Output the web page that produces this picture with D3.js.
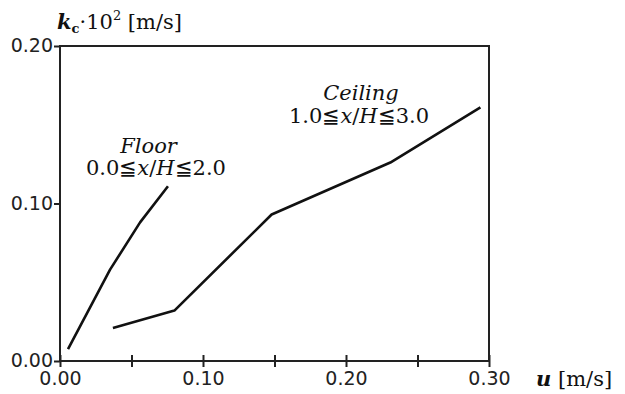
<!DOCTYPE html>
<html>
<head>
<meta charset="utf-8">
<script src="https://cdn.jsdelivr.net/npm/d3@7"></script>
<style>
body { margin: 0; background: #fff; }
.tick text { font-family: "DejaVu Sans", sans-serif; font-size: 19px; fill: #222; }
.lbl { font-family: "DejaVu Serif", serif; fill: #111; }
</style>
</head>
<body>
<script>

// floor curve (0.0 <= x/H <= 2.0)
const floorU = [0.0056, 0.035, 0.056, 0.0755];
const floorK = [0.0075, 0.058, 0.088, 0.111];

// ceiling curve (1.0 <= x/H <= 3.0)
const ceilU = [0.037, 0.080, 0.148, 0.231, 0.294];
const ceilK = [0.021, 0.032, 0.093, 0.126, 0.161];

const xTicks = [0, 0.05, 0.10, 0.15, 0.20, 0.25, 0.30];
const xTickLabels = ["0.00", "", "0.10", "", "0.20", "", "0.30"];
const yTicks = [0, 0.10, 0.20];
const yTickLabels = ["0.00", "0.10", "0.20"];

const W = 625, H = 394;
const margin = {top: 46, right: 136, bottom: 33, left: 60};
const width = W - margin.left - margin.right;
const height = H - margin.top - margin.bottom;

const svg = d3.select("body").append("svg")
    .attr("width", W)
    .attr("height", H);

const g = svg.append("g")
    .attr("transform", "translate(" + margin.left + "," + margin.top + ")");

const x = d3.scaleLinear().domain([0, 0.30]).range([0, width]);
const y = d3.scaleLinear().domain([0, 0.20]).range([height, 0]);

// frame
g.append("rect")
    .attr("width", width)
    .attr("height", height)
    .attr("fill", "none")
    .attr("stroke", "#222")
    .attr("stroke-width", 2);

// x axis, ticks cross the line
const xAx = g.append("g")
    .attr("transform", "translate(0," + height + ")")
    .call(d3.axisBottom(x).tickValues(xTicks).tickSize(0).tickPadding(11)
        .tickFormat((d, i) => xTickLabels[i]));
xAx.select(".domain").remove();
xAx.selectAll(".tick line")
    .attr("y1", -6).attr("y2", 6)
    .attr("stroke", "#222").attr("stroke-width", 2);

const yAx = g.append("g")
    .call(d3.axisLeft(y).tickValues(yTicks).tickSize(6).tickPadding(1)
        .tickFormat((d, i) => yTickLabels[i]));
yAx.select(".domain").remove();
yAx.selectAll(".tick line").attr("stroke", "#222").attr("stroke-width", 2);
yAx.selectAll(".tick text").attr("dy", "0.3em");

const line = d3.line()
    .x(d => x(d[0]))
    .y(d => y(d[1]));

g.append("path")
    .datum(floorU.map((u, i) => [u, floorK[i]]))
    .attr("d", line)
    .attr("fill", "none")
    .attr("stroke", "#111")
    .attr("stroke-width", 2.6)
    .attr("stroke-linejoin", "round");

g.append("path")
    .datum(ceilU.map((u, i) => [u, ceilK[i]]))
    .attr("d", line)
    .attr("fill", "none")
    .attr("stroke", "#111")
    .attr("stroke-width", 2.6)
    .attr("stroke-linejoin", "round");

// annotations
g.append("text").attr("class", "lbl")
    .attr("x", x(0.0619)).attr("y", y(0.1321))
    .attr("text-anchor", "middle")
    .style("font-size", "21px").style("font-style", "italic")
    .text("Floor");
g.append("text").attr("class", "lbl")
    .attr("x", x(0.0671)).attr("y", y(0.1181))
    .attr("text-anchor", "middle")
    .style("font-size", "21px")
    .html("0.0≦<tspan font-style='italic'>x</tspan>/<tspan font-style='italic'>H</tspan>≦2.0");

g.append("text").attr("class", "lbl")
    .attr("x", x(0.2105)).attr("y", y(0.1657))
    .attr("text-anchor", "middle")
    .style("font-size", "21px").style("font-style", "italic")
    .text("Ceiling");
g.append("text").attr("class", "lbl")
    .attr("x", x(0.2091)).attr("y", y(0.1511))
    .attr("text-anchor", "middle")
    .style("font-size", "21px")
    .html("1.0≦<tspan font-style='italic'>x</tspan>/<tspan font-style='italic'>H</tspan>≦3.0");

// axis titles
svg.append("text").attr("class", "lbl")
    .attr("x", 57).attr("y", 29)
    .style("font-size", "21px")
    .html("<tspan font-style='italic' font-weight='bold'>k</tspan><tspan font-size='13px' dy='4' font-weight='bold'>c</tspan><tspan dy='-4'>·10</tspan><tspan font-size='13px' dy='-9'>2</tspan><tspan dy='9'> [m/s]</tspan>");

svg.append("text").attr("class", "lbl")
    .attr("x", 536).attr("y", 386)
    .style("font-size", "21px")
    .html("<tspan font-style='italic' font-weight='bold'>u</tspan> [m/s]");

</script>
</body>
</html>
